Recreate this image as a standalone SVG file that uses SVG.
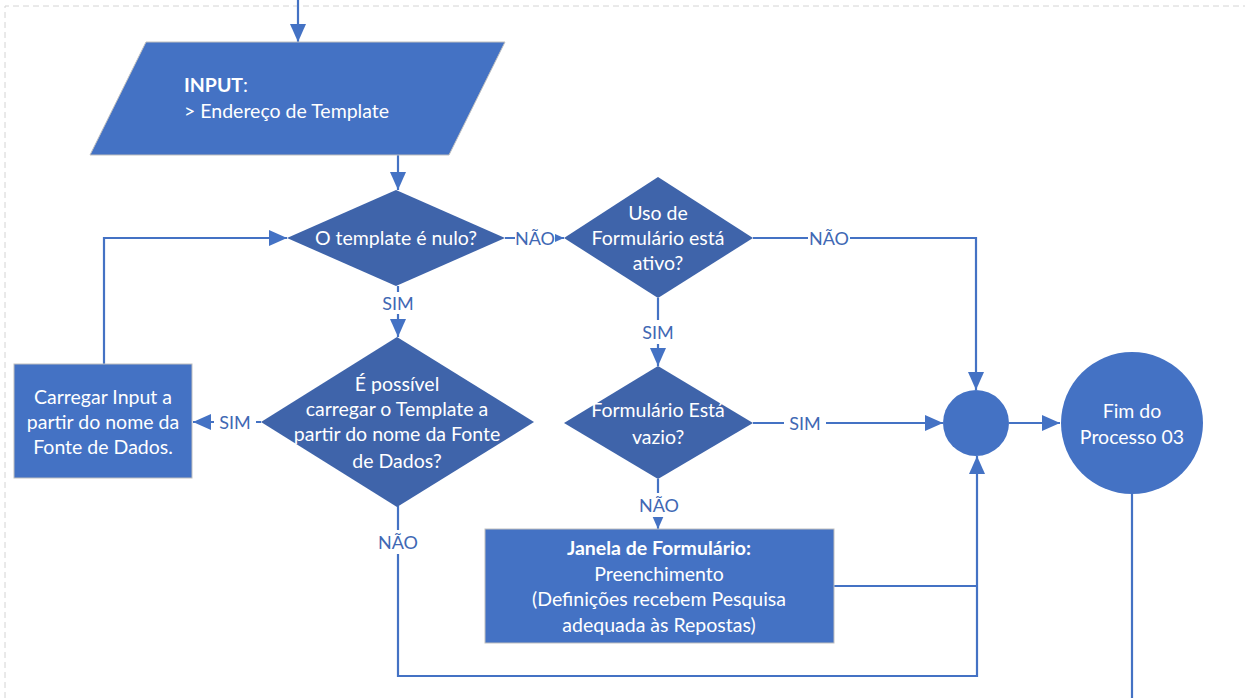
<svg xmlns="http://www.w3.org/2000/svg" width="1245" height="698" viewBox="0 0 1245 698">
  <style>
    .box { fill: #4472C4; stroke: #BFBFBF; stroke-width: 1; }
    .dec { fill: #3F64AA; }
    .term { fill: #4472C4; }
    .t { font-family: Lato, "Liberation Sans", sans-serif; font-size: 19.5px; fill: #FFFFFF; text-anchor: middle; }
    .tl { text-anchor: start; }
    .b { font-weight: bold; }
    .wire { fill: none; stroke: #4472C4; stroke-width: 2.2; }
    .lab { font-family: Lato, "Liberation Sans", sans-serif; font-size: 18px; fill: #4068B4; text-anchor: middle; }
    .bg { fill: #FFFFFF; }
  </style>
  <defs>
    <marker id="ah" markerUnits="userSpaceOnUse" markerWidth="18" markerHeight="16" refX="18" refY="8" orient="auto">
      <path d="M0,0 L18,8 L0,16 z" fill="#4472C4"/>
    </marker>
  </defs>

  <rect width="1245" height="698" fill="#FFFFFF"/>
  <!-- page frame -->
  <path d="M5,698 V6 H1245" fill="none" stroke="#D4D4D4" stroke-width="1" stroke-dasharray="6,4"/>

  <!-- connectors -->
  <g id="connectors">
    <path class="wire" d="M298,0 V42" marker-end="url(#ah)"/>
    <path class="wire" d="M398,155 V190" marker-end="url(#ah)"/>
    <path class="wire" d="M398,286 V337" marker-end="url(#ah)"/>
    <path class="wire" d="M505,238 H564" marker-end="url(#ah)"/>
    <path class="wire" d="M104,364 V238 H287" marker-end="url(#ah)"/>
    <path class="wire" d="M261,422 H193" marker-end="url(#ah)"/>
    <path class="wire" d="M658,298 V366" marker-end="url(#ah)"/>
    <path class="wire" d="M753,238 H976 V390" marker-end="url(#ah)"/>
    <path class="wire" d="M753,423 H943" marker-end="url(#ah)"/>
    <path class="wire" d="M658,479 V529" marker-end="url(#ah)"/>
    <path class="wire" d="M398,506 V676 H977 V456" marker-end="url(#ah)"/>
    <path class="wire" d="M834,586 H977"/>
    <path class="wire" d="M1009,423 H1060" marker-end="url(#ah)"/>
    <path class="wire" d="M1132,494 V698"/>
  </g>

  <!-- connector labels -->
  <g id="labels">
    <rect class="bg" x="515" y="228" width="40" height="20"/>
    <text class="lab" x="535" y="245">NÃO</text>
    <rect class="bg" x="378" y="292" width="40" height="22"/>
    <text class="lab" x="398" y="310">SIM</text>
    <rect class="bg" x="214" y="412" width="42" height="20"/>
    <text class="lab" x="235" y="429">SIM</text>
    <rect class="bg" x="376" y="530" width="44" height="24"/>
    <text class="lab" x="398" y="549">NÃO</text>
    <rect class="bg" x="808" y="228" width="42" height="20"/>
    <text class="lab" x="829" y="245">NÃO</text>
    <rect class="bg" x="638" y="320" width="40" height="24"/>
    <text class="lab" x="658" y="339">SIM</text>
    <rect class="bg" x="784" y="413" width="42" height="20"/>
    <text class="lab" x="805" y="430">SIM</text>
    <rect class="bg" x="637" y="493" width="44" height="24"/>
    <text class="lab" x="659" y="512">NÃO</text>
  </g>

  <g id="input">
    <polygon class="box" points="146,42 505,42 449,155 90,155"/>
    <text class="t tl b" x="184" y="92">INPUT<tspan font-weight="normal">:</tspan></text>
    <text class="t tl" x="184" y="118">&gt; Endereço de Template</text>
  </g>

  <g id="template-nulo">
    <polygon class="dec" points="396,190 505,238 396,286 287,238"/>
    <text class="t" x="396" y="245">O template é nulo?</text>
  </g>

  <g id="carregar-template">
    <polygon class="dec" points="397,337 534,422 397,507 261,422"/>
    <text class="t" x="397" y="391">É possível</text>
    <text class="t" x="397" y="416">carregar o Template a</text>
    <text class="t" x="397" y="441">partir do nome da Fonte</text>
    <text class="t" x="397" y="468">de Dados?</text>
  </g>

  <g id="carregar-input">
    <rect class="box" x="14" y="364" width="178" height="114"/>
    <text class="t" x="103" y="404">Carregar Input a</text>
    <text class="t" x="103" y="429">partir do nome da</text>
    <text class="t" x="103" y="454">Fonte de Dados.</text>
  </g>

  <g id="formulario-ativo">
    <polygon class="dec" points="658,177 753,238 658,298 564,238"/>
    <text class="t" x="658" y="220">Uso de</text>
    <text class="t" x="658" y="245">Formulário está</text>
    <text class="t" x="658" y="270">ativo?</text>
  </g>

  <g id="formulario-vazio">
    <polygon class="dec" points="658,366 753,423 658,479 564,423"/>
    <text class="t" x="658" y="417">Formulário Está</text>
    <text class="t" x="658" y="444">vazio?</text>
  </g>

  <g id="janela-formulario">
    <rect class="box" x="485" y="529" width="349" height="114"/>
    <text class="t b" x="659" y="555">Janela de Formulário:</text>
    <text class="t" x="659" y="581">Preenchimento</text>
    <text class="t" x="659" y="606">(Definições recebem Pesquisa</text>
    <text class="t" x="659" y="632">adequada às Repostas)</text>
  </g>

  <g id="juncao">
    <circle class="term" cx="976" cy="423" r="33"/>
  </g>

  <g id="fim-processo">
    <circle class="term" cx="1132" cy="423" r="71"/>
    <text class="t" x="1132" y="418">Fim do</text>
    <text class="t" x="1132" y="444">Processo 03</text>
  </g>
</svg>
